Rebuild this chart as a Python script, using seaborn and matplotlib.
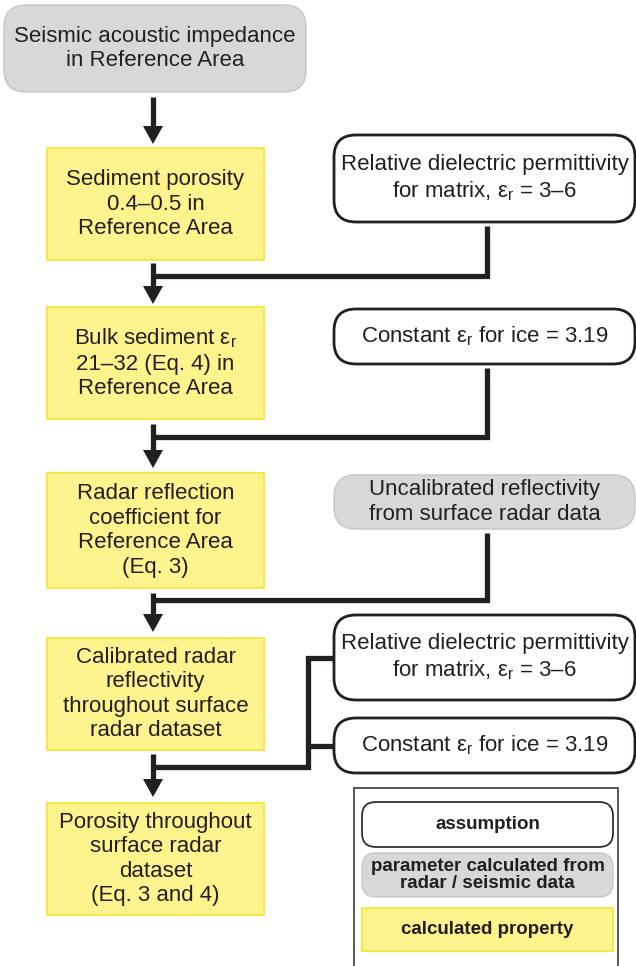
import matplotlib
matplotlib.use("Agg")
import matplotlib.pyplot as plt
import seaborn as sns
from matplotlib.patches import FancyBboxPatch, Rectangle

sns.set_theme(style="white")
plt.rcParams["font.family"] = ["Liberation Sans", "DejaVu Sans"]
plt.rcParams["mathtext.fontset"] = "custom"
plt.rcParams["mathtext.rm"] = "Liberation Sans"
plt.rcParams["mathtext.it"] = "Liberation Sans:italic"

EPS = "ε$_{\\rm r}$"

# flowchart content
main_labels = [
    "Seismic acoustic impedance\nin Reference Area",
    "Sediment porosity\n0.4–0.5 in\nReference Area",
    f"Bulk sediment {EPS}\n21–32 (Eq. 4) in\nReference Area",
    "Radar reflection\ncoefficient for\nReference Area\n(Eq. 3)",
    "Calibrated radar\nreflectivity\nthroughout surface\nradar dataset",
    "Porosity throughout\nsurface radar\ndataset\n(Eq. 3 and 4)",
]
main_kinds = ["data", "calc", "calc", "calc", "calc", "calc"]

side_labels = [
    f"Relative dielectric permittivity\nfor matrix, {EPS} = 3–6",
    f"Constant {EPS} for ice = 3.19",
    "Uncalibrated reflectivity\nfrom surface radar data",
    f"Relative dielectric permittivity\nfor matrix, {EPS} = 3–6",
    f"Constant {EPS} for ice = 3.19",
]
side_kinds = ["assumption", "assumption", "data", "assumption", "assumption"]

legend_labels = [
    "assumption",
    "parameter calculated from\nradar / seismic data",
    "calculated property",
]
legend_kinds = ["assumption", "data", "calc"]

# layout (pixel units, y downwards)
main_boxes = [(4, 5, 306, 92), (47, 148, 264, 260), (47, 307, 264, 419),
              (47, 473, 264, 588), (47, 638, 264, 750), (47, 803, 264, 915)]
side_boxes = [(334, 135, 635, 222), (334, 309, 635, 364), (334, 475, 635, 529),
              (334, 615, 635, 700), (334, 718, 635, 773)]
legend_boxes = [(362, 802, 613, 847), (362, 853, 613, 897), (362, 908, 613, 951)]
arrows = [(97, 144), (263, 304), (424, 468), (593, 632), (754, 797)]
ARROW_X = 153
LINK_X = 487

INK = "#231f20"
styles = {
    "assumption": dict(fc="white", ec=INK, lw=2.0, rounded=True),
    "data": dict(fc="#d8d8d8", ec="#c6c6c6", lw=1.0, rounded=True),
    "calc": dict(fc="#fff38e", ec="#f3e52c", lw=1.2, rounded=False),
}


def draw_box(ax, box, kind, label, size=16, weight="normal", radius=22, lw=None,
             spacing=1.22):
    x0, y0, x1, y1 = box
    st = styles[kind]
    style = f"round,pad=0,rounding_size={radius}" if st["rounded"] else "square,pad=0"
    ax.add_patch(FancyBboxPatch((x0, y0), x1 - x0, y1 - y0, boxstyle=style,
                                fc=st["fc"], ec=st["ec"],
                                lw=lw if lw is not None else st["lw"], zorder=2))
    ax.text((x0 + x1) / 2, (y0 + y1) / 2, label, ha="center", va="center",
            fontsize=size, fontweight=weight, color=INK, linespacing=spacing,
            zorder=3)


def line(ax, xs, ys):
    ax.plot(xs, ys, color=INK, lw=3.8, solid_capstyle="butt",
            solid_joinstyle="miter", zorder=1)


fig = plt.figure(figsize=(6.36, 9.66), dpi=100)
ax = fig.add_axes([0, 0, 1, 1])
ax.set_xlim(0, 636)
ax.set_ylim(966, 0)
ax.axis("off")

for box, kind, label in zip(main_boxes, main_kinds, main_labels):
    draw_box(ax, box, kind, label)
for box, kind, label in zip(side_boxes, side_kinds, side_labels):
    draw_box(ax, box, kind, label)

# arrows down the main column
for y0, y1 in arrows:
    line(ax, [ARROW_X, ARROW_X], [y0, y1 - 17])
    ax.fill([ARROW_X - 10, ARROW_X + 10, ARROW_X], [y1 - 18, y1 - 18, y1],
            color=INK, lw=0, zorder=1)

# connectors from side boxes
joins = [276, 437, 600]
for box, yj in zip(side_boxes[:3], joins):
    line(ax, [LINK_X, LINK_X, ARROW_X - 1], [box[3] + 4, yj, yj])

# bracket for the last two assumptions
bx = 308
yb = 767
line(ax, [side_boxes[3][0], bx, bx, ARROW_X - 1],
     [(side_boxes[3][1] + side_boxes[3][3]) / 2,
      (side_boxes[3][1] + side_boxes[3][3]) / 2, yb, yb])
line(ax, [bx, side_boxes[4][0]],
     [(side_boxes[4][1] + side_boxes[4][3]) / 2] * 2)

# legend
ax.add_patch(Rectangle((354, 788), 264, 190, fc="white", ec="#4a4a4a",
                       lw=1.3, zorder=1.5))
for box, kind, label in zip(legend_boxes, legend_kinds, legend_labels):
    draw_box(ax, box, kind, label, size=13.5, weight="bold", radius=14,
             lw=1.2 if kind == "assumption" else None, spacing=1.05)

fig.savefig("out.png", dpi=100)
